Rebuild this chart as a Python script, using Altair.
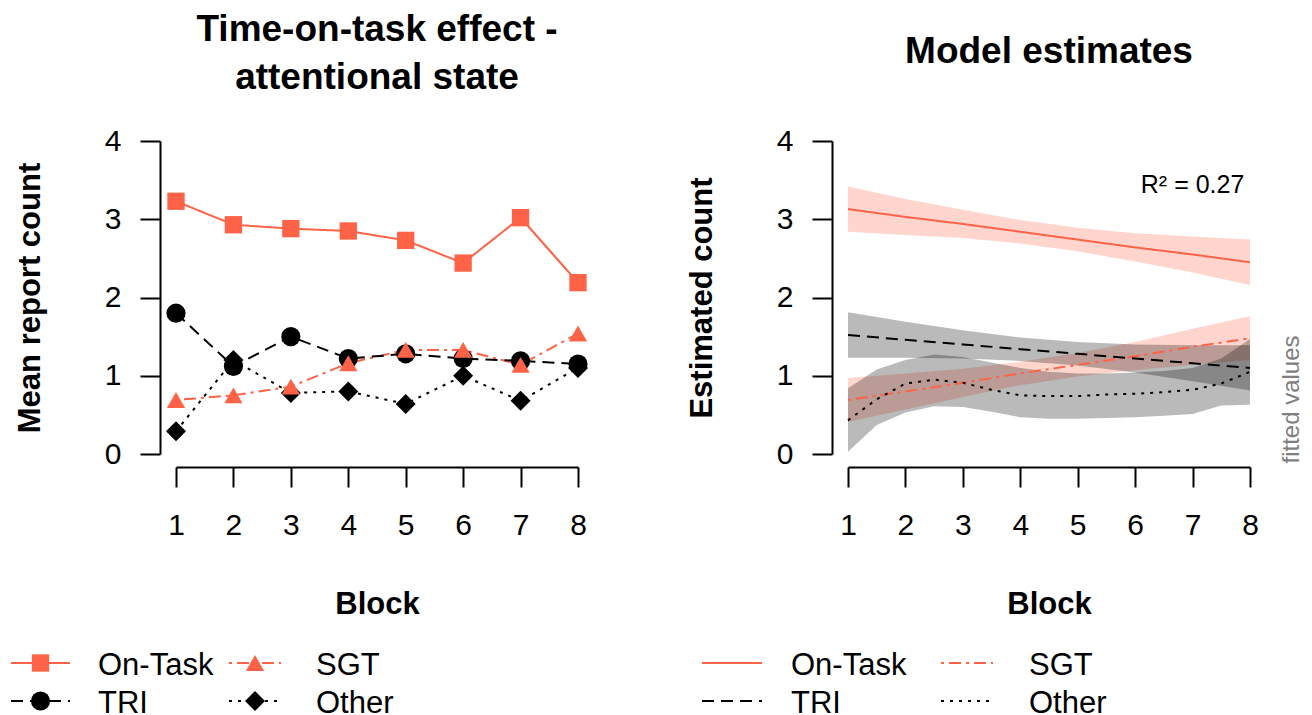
import altair as alt
import pandas as pd

# ---------------- data ----------------
SERIES = ["On-Task", "SGT", "TRI", "Other"]
BLOCKS = [1, 2, 3, 4, 5, 6, 7, 8]
Y_TICKS = [0, 1, 2, 3, 4]

# Left panel: mean report count per block
MEAN_ON_TASK = [3.23, 2.93, 2.88, 2.85, 2.73, 2.44, 3.02, 2.19]
MEAN_SGT = [0.69, 0.75, 0.86, 1.16, 1.33, 1.33, 1.14, 1.54]
MEAN_TRI = [1.80, 1.12, 1.50, 1.22, 1.28, 1.22, 1.19, 1.15]
MEAN_OTHER = [0.29, 1.20, 0.78, 0.80, 0.64, 1.00, 0.68, 1.10]

# Right panel: model estimates (fit with confidence band)
FIT_ON_TASK = [3.13, 3.03, 2.94, 2.84, 2.74, 2.64, 2.55, 2.45]
LO_ON_TASK = [2.84, 2.80, 2.76, 2.69, 2.59, 2.46, 2.32, 2.16]
HI_ON_TASK = [3.42, 3.26, 3.12, 2.99, 2.89, 2.82, 2.78, 2.74]

FIT_SGT = [0.69, 0.80, 0.91, 1.03, 1.14, 1.25, 1.37, 1.48]
LO_SGT = [0.41, 0.57, 0.73, 0.88, 0.99, 1.07, 1.14, 1.20]
HI_SGT = [0.97, 1.03, 1.09, 1.18, 1.29, 1.43, 1.60, 1.76]

FIT_TRI = [1.52, 1.46, 1.40, 1.34, 1.28, 1.22, 1.16, 1.10]
LO_TRI = [1.23, 1.23, 1.22, 1.19, 1.13, 1.04, 0.93, 0.81]
HI_TRI = [1.81, 1.69, 1.58, 1.49, 1.43, 1.40, 1.39, 1.39]

OTHER_BLOCKS = [1.0, 1.5, 2.0, 2.5, 3.0, 3.5, 4.0, 4.5, 5.0, 5.5, 6.0, 6.5, 7.0, 7.5, 8.0]
FIT_OTHER = [0.43, 0.70, 0.90, 0.95, 0.91, 0.82, 0.75, 0.74, 0.74, 0.76, 0.77, 0.79, 0.82, 0.90, 1.05]
LO_OTHER = [0.03, 0.37, 0.53, 0.61, 0.60, 0.54, 0.47, 0.45, 0.45, 0.46, 0.47, 0.49, 0.51, 0.62, 0.63]
HI_OTHER = [0.84, 1.08, 1.20, 1.27, 1.24, 1.17, 1.10, 1.05, 1.03, 1.03, 1.04, 1.06, 1.10, 1.22, 1.47]

R2_LABEL = "R² = 0.27"

# ---------------- tables ----------------
mean_values = {"On-Task": MEAN_ON_TASK, "SGT": MEAN_SGT, "TRI": MEAN_TRI, "Other": MEAN_OTHER}
means_df = pd.DataFrame(
    [{"series": s, "block": b, "value": v} for s in SERIES for b, v in zip(BLOCKS, mean_values[s])]
)

fit_parts = {
    "On-Task": (BLOCKS, FIT_ON_TASK, LO_ON_TASK, HI_ON_TASK),
    "SGT": (BLOCKS, FIT_SGT, LO_SGT, HI_SGT),
    "TRI": (BLOCKS, FIT_TRI, LO_TRI, HI_TRI),
    "Other": (OTHER_BLOCKS, FIT_OTHER, LO_OTHER, HI_OTHER),
}
fit_df = pd.DataFrame(
    [
        {"series": s, "block": b, "fit": f, "lo": lo, "hi": hi}
        for s in SERIES
        for b, f, lo, hi in zip(*fit_parts[s])
    ]
)

legend_df = pd.DataFrame(
    {"series": SERIES, "col": [i % 2 for i in range(len(SERIES))], "row": [i // 2 for i in range(len(SERIES))]}
)

# ---------------- styles ----------------
FONT = "Liberation Sans"
TOMATO = "#FF6347"
W, H = 402, 313

color_scale = alt.Scale(domain=SERIES, range=[TOMATO, TOMATO, "black", "black"])
dash_scale = alt.Scale(domain=SERIES, range=[[1, 0], [3, 5, 12, 5], [12, 7], [3, 6]])
shape_scale = alt.Scale(domain=SERIES, range=["square", "triangle-up", "circle", "diamond"])
size_scale = alt.Scale(domain=SERIES, range=[300, 400, 300, 230])
leg_size_scale = alt.Scale(domain=SERIES, range=[180, 250, 180, 150])
band_opacity = alt.Scale(domain=SERIES, range=[0.27, 0.27, 0.22, 0.22])

x_scale = alt.Scale(domain=[1, 8], nice=False, zero=False)
y_scale = alt.Scale(domain=[0, 4], nice=False, zero=False)

x_axis = alt.Axis(values=BLOCKS, title="Block", offset=13, tickSize=20, labelPadding=23,
                  titlePadding=49, labelFlush=False, format="d", grid=False)


def y_axis(title):
    return alt.Axis(values=Y_TICKS, title=title, offset=16, tickSize=20, labelPadding=19,
                    titlePadding=58, labelFlush=False, format="d", grid=False)


color = alt.Color("series:N", scale=color_scale, legend=None)
dash = alt.StrokeDash("series:N", scale=dash_scale, legend=None)

# ---------------- left panel ----------------
left_x = alt.X("block:Q", scale=x_scale, axis=x_axis)
left_y = alt.Y("value:Q", scale=y_scale, axis=y_axis("Mean report count"))

left_lines = alt.Chart(means_df).mark_line(strokeWidth=2).encode(
    x=left_x, y=left_y, color=color, strokeDash=dash
)
left_points = (
    alt.Chart(means_df)
    .transform_calculate(z="indexof(['On-Task','Other','TRI','SGT'], datum.series)")
    .mark_point(filled=True, opacity=1, strokeWidth=0)
    .encode(
        x=left_x, y=left_y, color=color,
        shape=alt.Shape("series:N", scale=shape_scale, legend=None),
        size=alt.Size("series:N", scale=size_scale, legend=None),
        order=alt.Order("z:Q"),
    )
)
left = alt.layer(left_lines, left_points).properties(
    width=W, height=H,
    title=alt.TitleParams(["Time-on-task effect -", "attentional state"], fontSize=37,
                          lineHeight=48, anchor="middle", offset=29),
)

# ---------------- right panel ----------------
right_x = alt.X("block:Q", scale=x_scale, axis=x_axis)
bands = alt.Chart(fit_df).mark_area().encode(
    x=right_x,
    y=alt.Y("lo:Q", scale=y_scale, axis=y_axis("Estimated count")),
    y2="hi:Q",
    color=color,
    opacity=alt.Opacity("series:N", scale=band_opacity, legend=None),
)
right_axis = alt.Axis(orient="right", domain=False, ticks=False, labels=False, grid=False,
                      title="fitted values", titleColor="#7f7f7f", titleFontSize=24,
                      titleFontWeight="normal", titleAngle=270, titleAlign="center",
                      titleBaseline="alphabetic", titleX=48, titleY=258)
fit_lines = alt.Chart(fit_df).mark_line(strokeWidth=2).encode(
    x=right_x, y=alt.Y("fit:Q", scale=y_scale, axis=right_axis), color=color, strokeDash=dash
)
r2 = alt.Chart(pd.DataFrame({"label": [R2_LABEL]})).mark_text(
    fontSize=25, align="center", baseline="alphabetic", font=FONT, color="black"
).encode(
    x=alt.XDatum(7, type="quantitative", scale=x_scale, axis=x_axis),
    y=alt.YDatum(3.34, type="quantitative", scale=y_scale, axis=None),
    text="label:N",
)
right = (
    alt.layer(bands, fit_lines, r2)
    .resolve_axis(y="independent")
    .properties(width=W, height=H,
                title=alt.TitleParams("Model estimates", fontSize=37, anchor="middle", offset=55))
)

# ---------------- legends ----------------
leg_x_scale = alt.Scale(domain=[0, W], nice=False, zero=False)
leg_y = alt.Y("row:Q", scale=alt.Scale(domain=[0, 1], reverse=True, nice=False), axis=None)


def make_legend(x0, x1, xt, with_markers):
    base = alt.Chart(legend_df).transform_calculate(
        x0=f"datum.col == 0 ? {x0[0]} : {x0[1]}",
        x1=f"datum.col == 0 ? {x1[0]} : {x1[1]}",
        xt=f"datum.col == 0 ? {xt[0]} : {xt[1]}",
    ).transform_calculate(xm="(datum.x0 + datum.x1) / 2")
    rules = base.mark_rule(strokeWidth=2).encode(
        x=alt.X("x0:Q", scale=leg_x_scale, axis=None), x2="x1:Q", y=leg_y,
        color=color, strokeDash=dash,
    )
    texts = base.mark_text(align="left", baseline="alphabetic", dy=12, fontSize=31,
                           font=FONT, color="black").encode(
        x=alt.X("xt:Q", scale=leg_x_scale, axis=None), y=leg_y, text="series:N"
    )
    layers = [rules]
    if with_markers:
        layers.append(
            base.mark_point(filled=True, opacity=1, strokeWidth=0).encode(
                x=alt.X("xm:Q", scale=leg_x_scale, axis=None), y=leg_y, color=color,
                shape=alt.Shape("series:N", scale=shape_scale, legend=None),
                size=alt.Size("series:N", scale=leg_size_scale, legend=None),
            )
        )
    layers.append(texts)
    return alt.layer(*layers).properties(width=W, height=38)


legend_left = make_legend((-165, 53), (-106, 105), (-78, 140), True)
legend_right = make_legend((-146, 93), (-86, 145), (-57, 181), False)

chart = (
    alt.concat(left, right, legend_left, legend_right, columns=2,
               spacing={"row": 209, "column": 270}, bounds="flush")
    .properties(padding={"left": 2, "top": 3, "right": 0, "bottom": 0})
    .configure(font=FONT)
    .configure_view(stroke=None)
    .configure_axis(domainColor="black", domainWidth=2, tickColor="black", tickWidth=2,
                    labelColor="black", titleColor="black", labelFont=FONT, titleFont=FONT,
                    labelFontSize=30, titleFontSize=31, titleFontWeight="bold")
    .configure_title(font=FONT, fontWeight="bold", color="black")
)

chart.save("out.html", embed_options={"renderer": "svg", "actions": False})
